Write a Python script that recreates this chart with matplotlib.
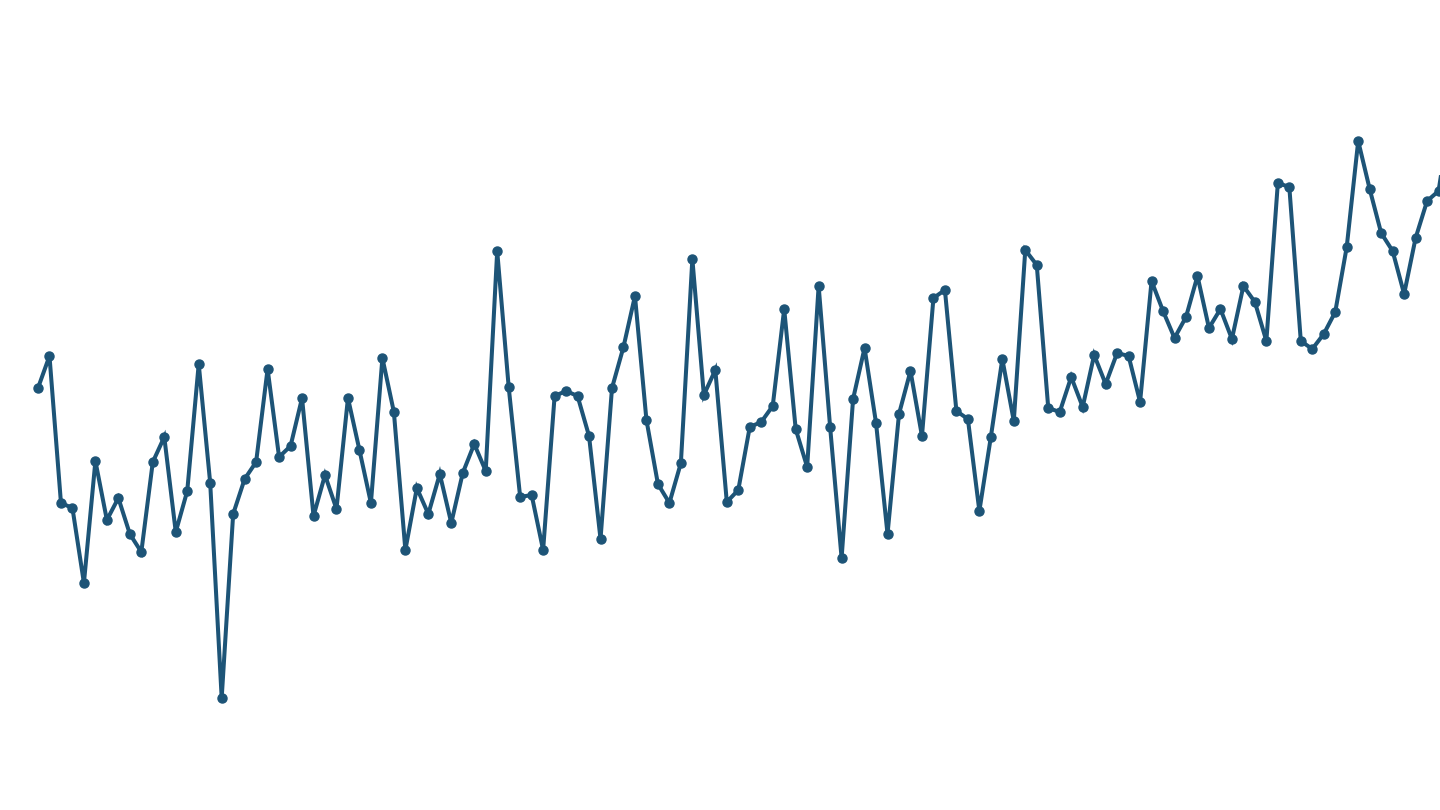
import matplotlib
matplotlib.use("Agg")
import matplotlib.pyplot as plt
import numpy as np

# values (arbitrary units, higher = up)
values = [
    422, 454, 307, 302, 227, 349, 290, 312, 276, 258,
    348, 373, 278, 319, 446, 327, 112, 296, 331, 348,
    441, 353, 364, 412, 294, 335, 301, 412, 360, 307,
    452, 398, 260, 322, 296, 336, 287, 337, 366, 339,
    559, 423, 313, 315, 260, 414, 419, 414, 374, 271,
    422, 463, 514, 390, 326, 307, 347, 551, 415, 440,
    308, 320, 383, 388, 404, 501, 381, 343, 524, 383,
    252, 411, 462, 387, 276, 396, 439, 374, 512, 520,
    399, 391, 299, 373, 451, 389, 560, 545, 402, 398,
    433, 403, 455, 426, 457, 454, 408, 529, 499, 472,
    493, 534, 482, 501, 471, 524, 508, 469, 627, 623,
    469, 461, 476, 498, 563, 669, 621, 577, 559, 516,
    572, 609, 619, 693,
]
index = list(range(len(values)))

color = "#1d5477"

fig = plt.figure(figsize=(14.4, 8.1), dpi=100)
ax = fig.add_axes([0, 0, 1, 1])
ax.plot(index, values, color=color, linewidth=2.9, marker="o", markersize=6.5,
        solid_joinstyle="miter", solid_capstyle="butt")
step = 11.48
ax.set_xlim(-38 / step, (1440 - 38) / step)
ax.set_ylim(0, 810)
ax.axis("off")
fig.savefig("out.png", dpi=100, facecolor="white")
